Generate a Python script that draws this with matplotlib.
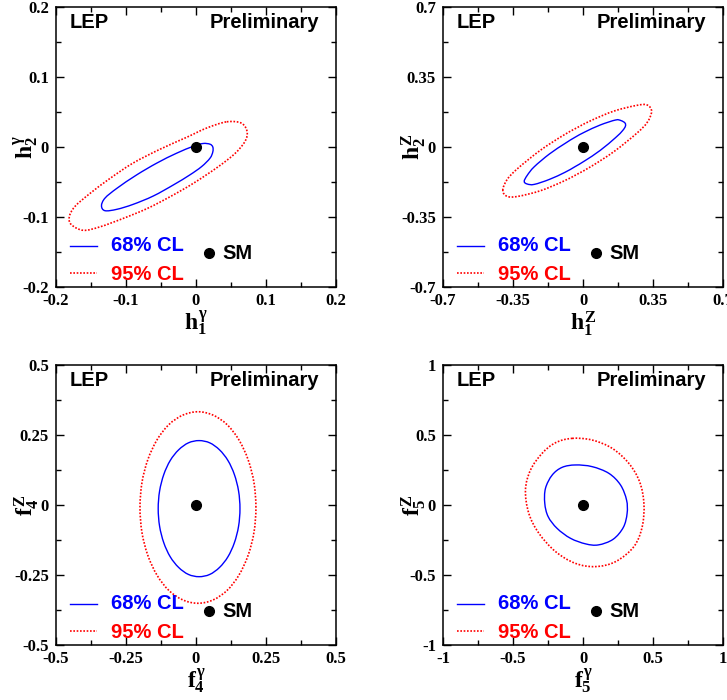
import numpy as np
import matplotlib
matplotlib.use("Agg")
import matplotlib.pyplot as plt
from matplotlib.ticker import MultipleLocator
from matplotlib.path import Path
from matplotlib.patches import PathPatch

plt.rcParams['mathtext.fontset'] = 'custom'
plt.rcParams['mathtext.rm'] = 'Liberation Serif:bold'
plt.rcParams['mathtext.it'] = 'Liberation Serif:bold'
plt.rcParams['mathtext.bf'] = 'Liberation Serif:bold'

# --- data ---
# SM expectation (same for all four couplings)
sm_x = [0.0]
sm_y = [0.0]

# h1gamma / h2gamma
hg_ticks = [-0.2, -0.1, 0, 0.1, 0.2]
hg_68_x = [0.024, 0.020, 0.008, -0.009, -0.032, -0.061, -0.090, -0.113, -0.130, -0.135,
           -0.130, -0.113, -0.085, -0.056, -0.028, -0.004, 0.010, 0.020, 0.024]
hg_68_y = [-0.007, -0.016, -0.028, -0.040, -0.054, -0.070, -0.082, -0.089, -0.091, -0.084,
           -0.073, -0.059, -0.040, -0.023, -0.009, 0.001, 0.005, 0.004, 0.000]
hg_95_x = [0.044, 0.065, 0.073, 0.070, 0.056, 0.032, -0.004, -0.037, -0.070, -0.104, -0.137,
           -0.161, -0.178, -0.181, -0.173, -0.151, -0.123, -0.090, -0.051, -0.013, 0.015]
hg_95_y = [0.036, 0.034, 0.022, 0.008, -0.009, -0.028, -0.052, -0.071, -0.088, -0.102, -0.114,
           -0.119, -0.111, -0.100, -0.085, -0.066, -0.045, -0.023, -0.003, 0.014, 0.027]

# h1Z / h2Z
hz_ticks = [-0.7, -0.35, 0, 0.35, 0.7]
hz_68_x = [-0.294, -0.279, -0.244, -0.168, -0.091, -0.041, 0.009, 0.086, 0.163, 0.190,
           0.210, 0.212, 0.198, 0.163, 0.086, 0.009, -0.041, -0.091, -0.168, -0.244, -0.279]
hz_68_y = [-0.172, -0.142, -0.099, -0.035, 0.017, 0.048, 0.075, 0.110, 0.135, 0.132,
           0.120, 0.104, 0.082, 0.047, -0.017, -0.069, -0.099, -0.127, -0.162, -0.187, -0.185]
hz_95_x = [-0.401, -0.379, -0.326, -0.214, -0.104, -0.029, 0.046, 0.156, 0.268, 0.321,
           0.343, 0.321, 0.268, 0.156, 0.046, -0.029, -0.104, -0.214, -0.326, -0.379]
hz_95_y = [-0.217, -0.162, -0.107, -0.017, 0.055, 0.097, 0.135, 0.180, 0.208, 0.210,
           0.178, 0.123, 0.068, -0.022, -0.094, -0.136, -0.174, -0.219, -0.247, -0.247]

# f4gamma / f4Z
f4_ticks = [-0.5, -0.25, 0, 0.25, 0.5]
f4_68_x = [0.157, 0.152, 0.137, 0.114, 0.084, 0.049, 0.011, -0.027, -0.062, -0.092, -0.115, -0.130,
           -0.135, -0.130, -0.115, -0.092, -0.062, -0.027, 0.011, 0.049, 0.084, 0.114, 0.137, 0.152]
f4_68_y = [-0.013, 0.050, 0.109, 0.159, 0.197, 0.222, 0.230, 0.222, 0.197, 0.159, 0.109, 0.050,
           -0.013, -0.076, -0.135, -0.185, -0.223, -0.248, -0.256, -0.248, -0.223, -0.185, -0.135, -0.076]
f4_95_x = [0.214, 0.207, 0.186, 0.153, 0.111, 0.061, 0.007, -0.047, -0.097, -0.139, -0.172, -0.193,
           -0.200, -0.193, -0.172, -0.139, -0.097, -0.047, 0.007, 0.061, 0.111, 0.153, 0.186, 0.207]
f4_95_y = [-0.009, 0.080, 0.162, 0.233, 0.287, 0.321, 0.333, 0.321, 0.287, 0.233, 0.162, 0.080,
           -0.009, -0.098, -0.180, -0.251, -0.305, -0.339, -0.351, -0.339, -0.305, -0.251, -0.180, -0.098]

# f5gamma / f5Z
f5_ticks = [-1, -0.5, 0, 0.5, 1]
f5_68_x = [-0.054, 0.065, 0.185, 0.268, 0.311, 0.315, 0.288, 0.215, 0.110, 0.020, -0.089,
           -0.185, -0.249, -0.273, -0.268, -0.220, -0.149]
f5_68_y = [0.286, 0.274, 0.226, 0.143, 0.036, -0.060, -0.160, -0.245, -0.285, -0.278, -0.238,
           -0.167, -0.083, 0.012, 0.119, 0.214, 0.269]
f5_95_x = [-0.077, 0.065, 0.208, 0.327, 0.404, 0.435, 0.423, 0.363, 0.232, 0.089, -0.054,
           -0.196, -0.315, -0.387, -0.411, -0.375, -0.292, -0.196]
f5_95_y = [0.476, 0.464, 0.405, 0.298, 0.167, 0.012, -0.155, -0.298, -0.405, -0.440, -0.417,
           -0.333, -0.202, -0.060, 0.107, 0.250, 0.369, 0.445]

labels_x = [r'$h_1^\gamma$', r'$h_1^Z$', r'$f_4^\gamma$', r'$f_5^\gamma$']
labels_y = [r'$h_2^\gamma$', r'$h_2^Z$', r'$f_4^Z$', r'$f_5^Z$']

W, H = 727, 700
fig = plt.figure(figsize=(W / 100, H / 100), dpi=100)

boxes = [(56, 7), (443, 7), (56, 365), (443, 365)]  # pixel left/top of each frame
panels = [
    (hg_ticks, hg_68_x, hg_68_y, hg_95_x, hg_95_y),
    (hz_ticks, hz_68_x, hz_68_y, hz_95_x, hz_95_y),
    (f4_ticks, f4_68_x, f4_68_y, f4_95_x, f4_95_y),
    (f5_ticks, f5_68_x, f5_68_y, f5_95_x, f5_95_y),
]

sans = dict(family='Liberation Sans', weight='bold')
serif = dict(family='Liberation Serif', weight='bold', size=12)
txt_size = 14.5


def contour_patch(xs, ys, **kw):
    # closed smooth curve through the read points (Catmull-Rom as cubic Bezier)
    p = np.column_stack([xs, ys])
    n = len(p)
    verts = [p[0]]
    codes = [Path.MOVETO]
    for k in range(n):
        p0, p1, p2, p3 = p[k - 1], p[k], p[(k + 1) % n], p[(k + 2) % n]
        verts += [p1 + (p2 - p0) / 6, p2 - (p3 - p1) / 6, p2]
        codes += [Path.CURVE4] * 3
    return PathPatch(Path(verts, codes), fill=False, **kw)


for i, (ticks, x68, y68, x95, y95) in enumerate(panels):
    left, top = boxes[i]
    ax = fig.add_axes([left / W, 1 - (top + 280) / H, 280 / W, 280 / H])

    ax.add_patch(contour_patch(x95, y95, edgecolor='red', lw=1.2, ls=(0, (1, 1))))
    ax.add_patch(contour_patch(x68, y68, edgecolor='blue', lw=1.0))
    ax.plot(sm_x, sm_y, 'o', color='black', ms=7)

    ax.set_xlim(ticks[0], ticks[-1])
    ax.set_ylim(ticks[0], ticks[-1])
    ax.set_xticks(ticks)
    ax.set_yticks(ticks)
    ax.set_xticklabels([f"{t:g}" for t in ticks], fontdict=serif)
    ax.set_yticklabels([f"{t:g}" for t in ticks], fontdict=serif)
    step = ticks[1] - ticks[0]
    ax.xaxis.set_minor_locator(MultipleLocator(step / 2))
    ax.yaxis.set_minor_locator(MultipleLocator(step / 2))
    ax.tick_params(which='both', direction='in', top=True, right=True, width=1)
    ax.tick_params(which='major', length=6)
    ax.tick_params(which='minor', length=3.5)
    ax.tick_params(axis='x', pad=4)
    ax.tick_params(axis='y', pad=5)
    for s in ax.spines.values():
        s.set_linewidth(1.1)

    ax.set_xlabel(labels_x[i], fontsize=17)
    ax.set_ylabel(labels_y[i], fontsize=17)
    ax.xaxis.set_label_coords(0.5, -0.13)
    ax.yaxis.set_label_coords(-0.107, 0.5)
    ax.xaxis.label.set_va('center')
    ax.yaxis.label.set_va('center')

    # header
    ax.text(0.05, 0.945, 'LEP', transform=ax.transAxes, fontsize=txt_size, va='center', **sans)
    ax.text(0.94, 0.945, 'Preliminary', transform=ax.transAxes, fontsize=txt_size,
            va='center', ha='right', **sans)

    # legend
    ax.plot([0.05, 0.145], [0.147, 0.147], transform=ax.transAxes, color='blue', lw=1.0)
    ax.text(0.197, 0.147, '68% CL', transform=ax.transAxes, color='blue', fontsize=txt_size,
            va='center', **sans)
    ax.plot([0.05, 0.145], [0.049, 0.049], transform=ax.transAxes, color='red', lw=1.2,
            ls=(0, (1, 1)))
    ax.text(0.197, 0.045, '95% CL', transform=ax.transAxes, color='red', fontsize=txt_size,
            va='center', **sans)
    ax.plot([0.5475], [0.12], 'o', transform=ax.transAxes, color='black', ms=7)
    ax.text(0.595, 0.12, 'SM', transform=ax.transAxes, color='black', fontsize=txt_size,
            va='center', **sans)

fig.savefig('out.png', dpi=100)
